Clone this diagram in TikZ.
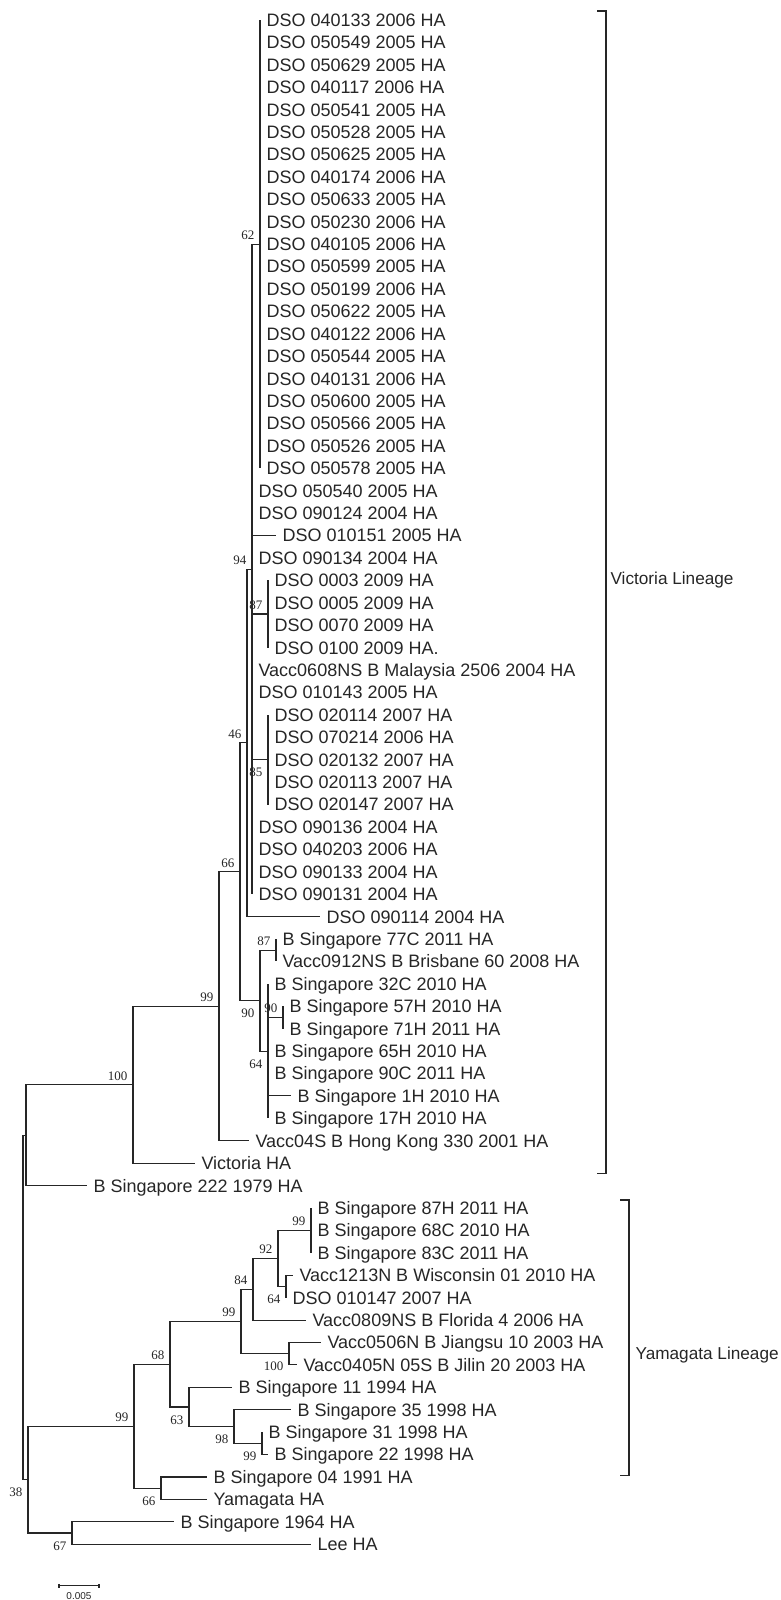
\documentclass[tikz,border=0pt]{standalone}
\usepackage{fontspec}
\setmainfont{Liberation Sans}
\newfontfamily\bsfont{Liberation Serif}

\tikzset{
	tip/.style={anchor=west, inner sep=0pt, inner xsep=3pt, text height=6.4pt, text depth=0pt, font=\fontsize{9}{10}\selectfont},
	bsa/.style={anchor=south east, inner sep=0pt, xshift=-2.5pt, yshift=2pt, font=\bsfont\fontsize{6.5}{7}\selectfont},
	bsb/.style={anchor=north east, inner sep=0pt, xshift=-2.5pt, yshift=-4pt, font=\bsfont\fontsize{6.5}{7}\selectfont},
	branch/.style={black!85, line width=0.55pt},
	lineage/.style={anchor=west, inner sep=0pt, font=\fontsize{8.6}{10}\selectfont},
}

\begin{document}
\begin{tikzpicture}[x=0.5pt, y=-11.2075pt, every path/.style={branch}]
		\useasboundingbox (0,0.1077) rectangle (781,71.488);
		% internal nodes, Victoria lineage
		\coordinate (n62) at (260,11);
		\coordinate (n87a) at (268,27.5);
		\coordinate (n85) at (268,34);
		\coordinate (n94) at (252,25.5);
		\coordinate (n46) at (247,33.25);
		\coordinate (n87b) at (276,42.5);
		\coordinate (n90b) at (283,45.5);
		\coordinate (n64) at (268,47);
		\coordinate (n90) at (260,44.75);
		\coordinate (n66) at (240,39);
		\coordinate (n99) at (219,45);
		\coordinate (n100) at (133,48.5);
		\coordinate (nA) at (26,50.75);
		% internal nodes, Yamagata lineage
		\coordinate (n99c) at (311,55);
		\coordinate (n64y) at (286,57.5);
		\coordinate (n92) at (278,56.25);
		\coordinate (n84) at (253,57.625);
		\coordinate (n100y) at (289,60.5);
		\coordinate (n99b) at (241,59.0625);
		\coordinate (n99d) at (262,64.5);
		\coordinate (n98) at (234,63.75);
		\coordinate (n63) at (189,62.875);
		\coordinate (n68) at (170,60.96875);
		\coordinate (n66y) at (161,66.5);
		\coordinate (n99a) at (134,63.734);
		\coordinate (n67) at (72,68.5);
		\coordinate (nB) at (28,66.117);
		\coordinate (root) at (23,58.43);

		% tips
		\foreach \s [count=\i] in {040133 2006, 050549 2005, 050629 2005, 040117 2006, 050541 2005, 050528 2005, 050625 2005, 040174 2006, 050633 2005, 050230 2006, 040105 2006, 050599 2005, 050199 2006, 050622 2005, 040122 2006, 050544 2005, 040131 2006, 050600 2005, 050566 2005, 050526 2005, 050578 2005}
			{\node[tip] (l\i) at (260,\i) {DSO \s{} HA};
			\draw (n62) |- (l\i.west);}
		\node[tip] (l22) at (252,22) {DSO 050540 2005 HA};
		\node[tip] (l23) at (252,23) {DSO 090124 2004 HA};
		\node[tip] (l24) at (276,24) {DSO 010151 2005 HA};
		\node[tip] (l25) at (252,25) {DSO 090134 2004 HA};
		\node[tip] (l26) at (268,26) {DSO 0003 2009 HA};
		\node[tip] (l27) at (268,27) {DSO 0005 2009 HA};
		\node[tip] (l28) at (268,28) {DSO 0070 2009 HA};
		\node[tip] (l29) at (268,29) {DSO 0100 2009 HA.};
		\node[tip] (l30) at (252,30) {Vacc0608NS B Malaysia 2506 2004 HA};
		\node[tip] (l31) at (252,31) {DSO 010143 2005 HA};
		\node[tip] (l32) at (268,32) {DSO 020114 2007 HA};
		\node[tip] (l33) at (268,33) {DSO 070214 2006 HA};
		\node[tip] (l34) at (268,34) {DSO 020132 2007 HA};
		\node[tip] (l35) at (268,35) {DSO 020113 2007 HA};
		\node[tip] (l36) at (268,36) {DSO 020147 2007 HA};
		\node[tip] (l37) at (252,37) {DSO 090136 2004 HA};
		\node[tip] (l38) at (252,38) {DSO 040203 2006 HA};
		\node[tip] (l39) at (252,39) {DSO 090133 2004 HA};
		\node[tip] (l40) at (252,40) {DSO 090131 2004 HA};
		\node[tip] (l41) at (320,41) {DSO 090114 2004 HA};
		\node[tip] (l42) at (276,42) {B Singapore 77C 2011 HA};
		\node[tip] (l43) at (276,43) {Vacc0912NS B Brisbane 60 2008 HA};
		\node[tip] (l44) at (268,44) {B Singapore 32C 2010 HA};
		\node[tip] (l45) at (283,45) {B Singapore 57H 2010 HA};
		\node[tip] (l46) at (283,46) {B Singapore 71H 2011 HA};
		\node[tip] (l47) at (268,47) {B Singapore 65H 2010 HA};
		\node[tip] (l48) at (268,48) {B Singapore 90C 2011 HA};
		\node[tip] (l49) at (291,49) {B Singapore 1H 2010 HA};
		\node[tip] (l50) at (268,50) {B Singapore 17H 2010 HA};
		\node[tip] (l51) at (249,51) {Vacc04S B Hong Kong 330 2001 HA};
		\node[tip] (l52) at (195,52) {Victoria HA};
		\node[tip] (l53) at (87,53) {B Singapore 222 1979 HA};
		\node[tip] (l54) at (311,54) {B Singapore 87H 2011 HA};
		\node[tip] (l55) at (311,55) {B Singapore 68C 2010 HA};
		\node[tip] (l56) at (311,56) {B Singapore 83C 2011 HA};
		\node[tip] (l57) at (293,57) {Vacc1213N B Wisconsin 01 2010 HA};
		\node[tip] (l58) at (286,58) {DSO 010147 2007 HA};
		\node[tip] (l59) at (306,59) {Vacc0809NS B Florida 4 2006 HA};
		\node[tip] (l60) at (321,60) {Vacc0506N B Jiangsu 10 2003 HA};
		\node[tip] (l61) at (297,61) {Vacc0405N 05S B Jilin 20 2003 HA};
		\node[tip] (l62) at (232,62) {B Singapore 11 1994 HA};
		\node[tip] (l63) at (291,63) {B Singapore 35 1998 HA};
		\node[tip] (l64) at (262,64) {B Singapore 31 1998 HA};
		\node[tip] (l65) at (268,65) {B Singapore 22 1998 HA};
		\node[tip] (l66) at (207,66) {B Singapore 04 1991 HA};
		\node[tip] (l67) at (207,67) {Yamagata HA};
		\node[tip] (l68) at (174,68) {B Singapore 1964 HA};
		\node[tip] (l69) at (311,69) {Lee HA};

		% branches to tips
		\foreach \i in {22,23,24,25,30,31,37,38,39,40} \draw (n94) |- (l\i.west);
		\foreach \i in {26,...,29} \draw (n87a) |- (l\i.west);
		\foreach \i in {32,...,36} \draw (n85) |- (l\i.west);
		\draw (n46) |- (l41.west);
		\draw (n87b) |- (l42.west);
		\draw (n87b) |- (l43.west);
		\foreach \i in {44,47,48,49,50} \draw (n64) |- (l\i.west);
		\draw (n90b) |- (l45.west);
		\draw (n90b) |- (l46.west);
		\draw (n99) |- (l51.west);
		\draw (n100) |- (l52.west);
		\draw (nA) |- (l53.west);
		\foreach \i in {54,55,56} \draw (n99c) |- (l\i.west);
		\draw (n64y) |- (l57.west);
		\draw (n64y) |- (l58.west);
		\draw (n84) |- (l59.west);
		\draw (n100y) |- (l60.west);
		\draw (n100y) |- (l61.west);
		\draw (n63) |- (l62.west);
		\draw (n98) |- (l63.west);
		\draw (n99d) |- (l64.west);
		\draw (n99d) |- (l65.west);
		\draw (n66y) |- (l66.west);
		\draw (n66y) |- (l67.west);
		\draw (n67) |- (l68.west);
		\draw (n67) |- (l69.west);

		% inner branches
		\draw (n94) |- (n62);
		\draw (n94) |- (n87a);
		\draw (n94) |- (n85);
		\draw (n46) |- (n94);
		\draw (n90) |- (n87b);
		\draw (n90) |- (n64);
		\draw (n64) |- (n90b);
		\draw (n66) |- (n46);
		\draw (n66) |- (n90);
		\draw (n99) |- (n66);
		\draw (n100) |- (n99);
		\draw (nA) |- (n100);
		\draw (n92) |- (n99c);
		\draw (n92) |- (n64y);
		\draw (n84) |- (n92);
		\draw (n99b) |- (n84);
		\draw (n99b) |- (n100y);
		\draw (n98) |- (n99d);
		\draw (n63) |- (n98);
		\draw (n68) |- (n99b);
		\draw (n68) |- (n63);
		\draw (n99a) |- (n68);
		\draw (n99a) |- (n66y);
		\draw (nB) |- (n99a);
		\draw (nB) |- (n67);
		\draw (root) |- (nA);
		\draw (root) |- (nB);

		% bootstrap values
		\node[bsa] at (n62) {62};
		\node[bsa] at (n94) {94};
		\node[bsa] at (n87a) {87};
		\node[bsb] at (n85) {85};
		\node[bsa] at (n46) {46};
		\node[bsa] at (n66) {66};
		\node[bsa] at (n99) {99};
		\node[bsa] at (n100) {100};
		\node[bsb] at (n90) {90};
		\node[bsa] at (n87b) {87};
		\node[bsa] at (n90b) {90};
		\node[bsb] at (n64) {64};
		\node[bsa] at (n99c) {99};
		\node[bsb] at (n64y) {64};
		\node[bsa] at (n92) {92};
		\node[bsa] at (n84) {84};
		\node[bsb] at (n100y) {100};
		\node[bsa] at (n99b) {99};
		\node[bsa] at (n68) {68};
		\node[bsb] at (n63) {63};
		\node[bsb] at (n98) {98};
		\node[bsb] at (n99d) {99};
		\node[bsa] at (n99a) {99};
		\node[bsb] at (n66y) {66};
		\node[bsb] at (n67) {67};
		\node[bsb] at (nB) {38};

		% lineage brackets
		\coordinate (vt) at (597,0.598);
		\coordinate (vb) at (597,52.44);
		\draw (vt) -- ++(9,0) |- (vb);
		\node[lineage] (vlab) at (610,25.98) {Victoria Lineage};
		\coordinate (yt) at (620,53.64);
		\coordinate (yb) at (620,65.95);
		\draw (yt) -- ++(9,0) |- (yb);
		\node[lineage] (ylab) at (635,60.56) {Yamagata Lineage};

		% scale bar
		\coordinate (s0) at (59,70.86);
		\coordinate (s1) at (99,70.86);
		\draw (s0) -- (s1);
		\draw (s0) ++(0,-0.09) -- ++(0,0.18);
		\draw (s1) ++(0,-0.09) -- ++(0,0.18);
		\node[inner sep=0pt, font=\fontsize{5}{6}\selectfont] (sc) at (79,71.31) {0.005};
\end{tikzpicture}
\end{document}
